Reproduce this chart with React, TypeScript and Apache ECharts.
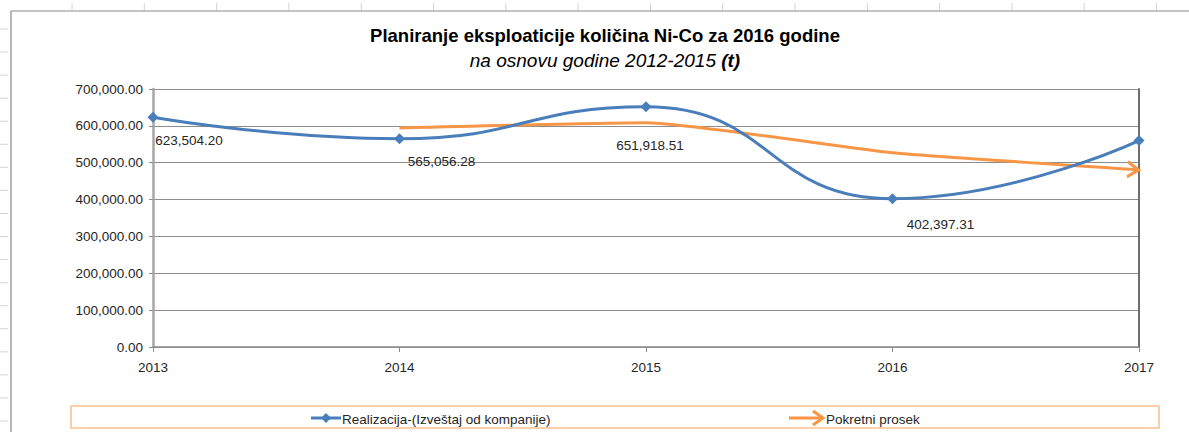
import React, { useEffect, useRef } from "react";
import * as echarts from "echarts";

const years = ["2013", "2014", "2015", "2016", "2017"];
const realizacija = [623504.2, 565056.28, 651918.51, 402397.31, 560000];
const pokretniProsek = [null, 594280, 608487, 527158, 481198];
const labelOffsets = [
  [36, 23],
  [42, 23],
  [4, 39],
  [48, 26],
  null,
];
const yTicks = { min: 0, max: 700000, interval: 100000 };

const titleText = "Planiranje eksploaticije količina Ni-Co za 2016 godine";
const subtitleMain = "na osnovu godine 2012-2015 ";
const subtitleUnit = "(t)";
const legendNames = ["Realizacija-(Izveštaj od kompanije)", "Pokretni prosek"];

const BLUE = "#4A7EBB";
const ORANGE = "#F79646";
const FONT = "'Liberation Sans', Arial, sans-serif";

const fmt = (v: number) =>
  v.toLocaleString("en-US", { minimumFractionDigits: 2, maximumFractionDigits: 2 });

export default function App() {
  const ref = useRef<HTMLDivElement>(null);
  useEffect(() => {
    if (!ref.current) return;
    const chart = echarts.init(ref.current, null, { renderer: "svg" });

    const bg: any[] = [];
    // spreadsheet background grid
    for (let i = 0; i < 16; i++) {
      const x = 72 + i * 72.3;
      bg.push({ type: "line", shape: { x1: x, y1: 3, x2: x, y2: 11 }, style: { stroke: "#D4D4D4", lineWidth: 1 }, silent: true });
    }
    for (let i = 0; i < 18; i++) {
      const y = 29 + i * 23.06;
      bg.push({ type: "line", shape: { x1: 0, y1: y, x2: 8, y2: y }, style: { stroke: "#D4D4D4", lineWidth: 1 }, silent: true });
    }
    bg.push({ type: "polyline", shape: { points: [[11, 440], [11, 11], [1195, 11]] }, style: { stroke: "#8A8A8A", lineWidth: 1.2, fill: null }, silent: true });

    // legend box
    bg.push({ type: "rect", shape: { x: 71, y: 406, width: 1088, height: 22 }, style: { fill: "#fff", stroke: "#FAC08F", lineWidth: 1.5 }, silent: true });
    bg.push({ type: "line", shape: { x1: 311, y1: 418, x2: 341, y2: 418 }, style: { stroke: BLUE, lineWidth: 3 } });
    bg.push({ type: "polygon", shape: { points: [[326, 413], [331, 418], [326, 423], [321, 418]] }, style: { fill: BLUE } });
    bg.push({ type: "text", x: 342, y: 419, style: { text: legendNames[0], font: `13.5px ${FONT}`, fill: "#262626", verticalAlign: "middle" } });
    bg.push({ type: "line", shape: { x1: 789, y1: 418, x2: 823, y2: 418 }, style: { stroke: ORANGE, lineWidth: 3 } });
    bg.push({ type: "polyline", shape: { points: [[813, 411], [823, 418], [813, 425]] }, style: { stroke: ORANGE, lineWidth: 3, fill: null } });
    bg.push({ type: "text", x: 826, y: 419, style: { text: legendNames[1], font: `13.5px ${FONT}`, fill: "#262626", verticalAlign: "middle" } });

    bg.push({ type: "text", x: 605, y: 35, style: { text: titleText, font: `bold 18.5px ${FONT}`, fill: "#000", align: "center", verticalAlign: "middle" } });
    bg.push({
      type: "text",
      x: 605,
      y: 60,
      style: {
        text: `{i|${subtitleMain}}{b|${subtitleUnit}}`,
        align: "center",
        verticalAlign: "middle",
        rich: {
          i: { font: `italic 19px ${FONT}`, fill: "#000" },
          b: { font: `italic bold 19px ${FONT}`, fill: "#000" },
        },
      },
    });

    chart.setOption({
      animation: false,
      backgroundColor: "#fff",
      textStyle: { fontFamily: FONT },
      graphic: bg,
      grid: { left: 153, right: 50, top: 89, bottom: 85, containLabel: false },
      xAxis: {
        type: "category",
        data: years,
        boundaryGap: false,
        axisLine: { lineStyle: { color: "#8C8C8C", width: 1.5 } },
        axisTick: { show: true, alignWithLabel: true, length: 5, lineStyle: { color: "#8C8C8C" } },
        axisLabel: { color: "#262626", fontSize: 13.5, margin: 13 },
        splitLine: { show: false },
      },
      yAxis: [
        {
          type: "value",
          ...yTicks,
          axisLine: { show: true, lineStyle: { color: "#A6A6A6", width: 2.5 } },
          axisTick: { show: true, length: 4, lineStyle: { color: "#8C8C8C" } },
          axisLabel: { color: "#262626", fontSize: 13.5, margin: 10, formatter: (v: number) => fmt(v) },
          splitLine: { show: true, lineStyle: { color: "#8C8C8C", width: 1 } },
        },
        {
          type: "value",
          position: "right",
          ...yTicks,
          axisLine: { show: true, lineStyle: { color: "#6E6E6E", width: 2 } },
          axisTick: { show: false },
          axisLabel: { show: false },
          splitLine: { show: false },
        },
      ],
      series: [
        {
          name: legendNames[0],
          type: "line",
          smooth: 0.5,
          data: realizacija.map((v, i) => {
            const off = labelOffsets[i];
            return off
              ? { value: v, label: { show: true, position: "inside", offset: off, formatter: fmt(v), color: "#262626", fontSize: 13.5 } }
              : { value: v };
          }),
          symbol: "diamond",
          symbolSize: 11,
          lineStyle: { color: BLUE, width: 3 },
          itemStyle: { color: BLUE },
          z: 3,
        },
        {
          name: legendNames[1],
          type: "line",
          smooth: 0.15,
          data: pokretniProsek.map((v, i) =>
            i === pokretniProsek.length - 1
              ? {
                  value: v,
                  symbol: "path://M0,0L12,8L0,16",
                  symbolSize: [11, 15],
                  symbolOffset: [-6, 0],
                  symbolRotate: -4,
                  itemStyle: { color: "rgba(0,0,0,0)", borderColor: ORANGE, borderWidth: 3 },
                }
              : { value: v, symbol: "none" }
          ),
          showSymbol: true,
          lineStyle: { color: ORANGE, width: 3 },
          itemStyle: { color: ORANGE },
          z: 2,
        },
      ],
    });
    return () => chart.dispose();
  }, []);
  return <div ref={ref} style={{ position: "fixed", left: 0, top: 0, width: 1189, height: 432 }} />;
}
